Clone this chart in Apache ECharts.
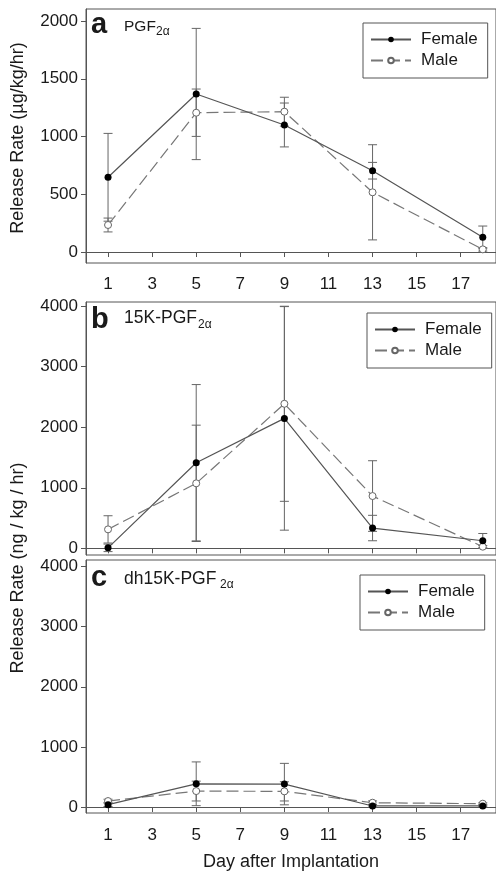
<!DOCTYPE html>
<html>
<head>
<meta charset="utf-8">
<script src="https://cdn.jsdelivr.net/npm/echarts@6/dist/echarts.min.js"></script>
<style>html,body{margin:0;padding:0;background:#fff}#container{width:496px;height:872px}</style>
</head>
<body>
<div id="container"></div>
<script>
var dom = document.getElementById('container');
var myChart = echarts.init(dom, null, { renderer: 'canvas' });

var days = [1, 5, 9, 13, 18];
var xTicks = [1, 3, 5, 7, 9, 11, 13, 15, 17];
var yTicksA = [0, 500, 1000, 1500, 2000];
var yTicksBC = [0, 1000, 2000, 3000, 4000];

// panel a: PGF2a (ug/kg/hr)
var pgfFemale = [647, 1368, 1100, 704, 127];
var pgfFemaleErr = [380, 568, 190, 72, 98];
var pgfMale = [234, 1206, 1215, 517, 23];
var pgfMaleErr = [60, 205, 125, 412, 15];

// panel b: 15K-PGF2a (ng/kg/hr)
var k15Female = [8, 1413, 2145, 335, 125];
var k15FemaleErr = [62, 1290, 1845, 210, 120];
var k15Male = [313, 1073, 2386, 863, 27];
var k15MaleErr = [225, 960, 1610, 583, 20];

// panel c: dh15K-PGF2a (ng/kg/hr)
var dhFemale = [38, 386, 381, 17, 17];
var dhFemaleErr = [30, 364, 345, 15, 10];
var dhMale = [99, 265, 260, 71, 55];
var dhMaleErr = [30, 165, 160, 30, 15];

var font = 'Liberation Sans, Arial, sans-serif';
var axisColor = '#555';
var textColor = '#1a1a1a';

function pairs(vals) {
    return days.map(function (d, i) { return [d, vals[i]]; });
}

function errorSeries(idx, vals, errs) {
    return {
        type: 'custom',
        name: 'err',
        xAxisIndex: idx,
        yAxisIndex: idx,
        silent: true,
        z: 1,
        data: days.map(function (d, i) { return [d, vals[i] - errs[i], vals[i] + errs[i]]; }),
        renderItem: function (params, api) {
            var lo = api.coord([api.value(0), api.value(1)]);
            var hi = api.coord([api.value(0), api.value(2)]);
            var w = 4.5;
            var st = { stroke: '#666', lineWidth: 1 };
            return {
                type: 'group',
                children: [
                    { type: 'line', shape: { x1: lo[0], y1: lo[1], x2: hi[0], y2: hi[1] }, style: st },
                    { type: 'line', shape: { x1: lo[0] - w, y1: lo[1], x2: lo[0] + w, y2: lo[1] }, style: st },
                    { type: 'line', shape: { x1: hi[0] - w, y1: hi[1], x2: hi[0] + w, y2: hi[1] }, style: st }
                ]
            };
        }
    };
}

function femaleSeries(idx, vals) {
    return {
        name: 'Female', type: 'line', xAxisIndex: idx, yAxisIndex: idx, z: 3,
        data: pairs(vals), symbol: 'circle', symbolSize: 7,
        itemStyle: { color: '#000', borderColor: '#000', borderWidth: 0 },
        lineStyle: { color: '#555', width: 1.2 },
        emphasis: { disabled: true }
    };
}

function maleSeries(idx, vals) {
    return {
        name: 'Male', type: 'line', xAxisIndex: idx, yAxisIndex: idx, z: 2,
        data: pairs(vals), symbol: 'circle', symbolSize: 7,
        itemStyle: { color: '#fff', borderColor: '#666', borderWidth: 1 },
        lineStyle: { color: '#777', width: 1.2, type: [12, 5] },
        emphasis: { disabled: true }
    };
}

function xAxisFor(idx, showLabel, margin) {
    return {
        type: 'value', gridIndex: idx, min: 0, max: 18.6,
        axisLine: { show: true, lineStyle: { color: axisColor } },
        axisTick: { show: true, length: 5, customValues: xTicks, lineStyle: { color: axisColor } },
        axisLabel: { show: showLabel, customValues: xTicks, fontSize: 17, fontFamily: font, color: textColor, margin: margin },
        splitLine: { show: false }
    };
}

function yAxisFor(idx, min, max, ticks) {
    return {
        type: 'value', gridIndex: idx, min: min, max: max,
        axisLine: { show: true, lineStyle: { color: axisColor } },
        axisTick: { show: true, length: 5, customValues: ticks, lineStyle: { color: axisColor } },
        axisLabel: {
            customValues: ticks, fontSize: 17, fontFamily: font, color: textColor, margin: 8,
            formatter: function (v) { return String(v); }
        },
        splitLine: { show: false }
    };
}

function legendAt(left, top) {
    return {
        orient: 'vertical', left: left, top: top,
        data: ['Female', 'Male'],
        selectedMode: false,
        borderColor: '#555', borderWidth: 1, borderRadius: 0,
        padding: [8, 10, 9, 7],
        itemWidth: 40, itemHeight: 7, itemGap: 4,
        textStyle: { fontSize: 17, fontFamily: font, color: textColor, padding: [0, 0, 0, 5] }
    };
}

function label(x, y, text, size, bold) {
    return {
        type: 'text', x: x, y: y,
        style: { text: text, fontSize: size, fontWeight: bold ? 'bold' : 'normal', fontFamily: font, fill: textColor, verticalAlign: 'middle' }
    };
}

option = {
    backgroundColor: '#fff',
    animation: false,
    grid: [
        { left: 86, top: 9, width: 411, height: 254, show: true, borderColor: axisColor, borderWidth: 1 },
        { left: 86, top: 302, width: 411, height: 253, show: true, borderColor: axisColor, borderWidth: 1 },
        { left: 86, top: 560, width: 411, height: 254, show: true, borderColor: axisColor, borderWidth: 1 }
    ],
    xAxis: [
        xAxisFor(0, true, 13),
        xAxisFor(1, false, 13),
        Object.assign(xAxisFor(2, true, 14), {
            name: 'Day after Implantation', nameLocation: 'middle', nameGap: 40,
            nameTextStyle: { fontSize: 18, fontFamily: font, color: textColor }
        })
    ],
    yAxis: [
        yAxisFor(0, -95, 2104, yTicksA),
        yAxisFor(1, -110, 4066, yTicksBC),
        yAxisFor(2, -100, 4110, yTicksBC)
    ],
    legend: [legendAt(363, 23), legendAt(367, 313), legendAt(360, 575)],
    graphic: [
        { type: 'text', x: 18, y: 138, rotation: Math.PI / 2,
          style: { text: 'Release Rate (\u00b5g/kg/hr)', fontSize: 18, fontFamily: font, fill: textColor, align: 'center', verticalAlign: 'middle' } },
        { type: 'text', x: 18, y: 568, rotation: Math.PI / 2,
          style: { text: 'Release Rate (ng / kg / hr)', fontSize: 18, fontFamily: font, fill: textColor, align: 'center', verticalAlign: 'middle' } },
        label(91, 25, 'a', 29, true),
        label(124, 26.5, 'PGF', 15.5, false),
        label(156, 31.5, '2\u03b1', 12, false),
        label(91, 320, 'b', 29, true),
        label(124, 318.5, '15K-PGF', 17.5, false),
        label(198, 324.5, '2\u03b1', 12, false),
        label(91, 578, 'c', 29, true),
        label(124, 579, 'dh15K-PGF', 17.5, false),
        label(220, 585, '2\u03b1', 12, false)
    ],
    series: [
        errorSeries(0, pgfMale, pgfMaleErr),
        errorSeries(0, pgfFemale, pgfFemaleErr),
        maleSeries(0, pgfMale),
        femaleSeries(0, pgfFemale),
        errorSeries(1, k15Male, k15MaleErr),
        errorSeries(1, k15Female, k15FemaleErr),
        maleSeries(1, k15Male),
        femaleSeries(1, k15Female),
        errorSeries(2, dhMale, dhMaleErr),
        errorSeries(2, dhFemale, dhFemaleErr),
        maleSeries(2, dhMale),
        femaleSeries(2, dhFemale)
    ]
};

if (option && typeof option === 'object') {
    myChart.setOption(option);
}

window.addEventListener('resize', myChart.resize);
</script>
</body>
</html>
